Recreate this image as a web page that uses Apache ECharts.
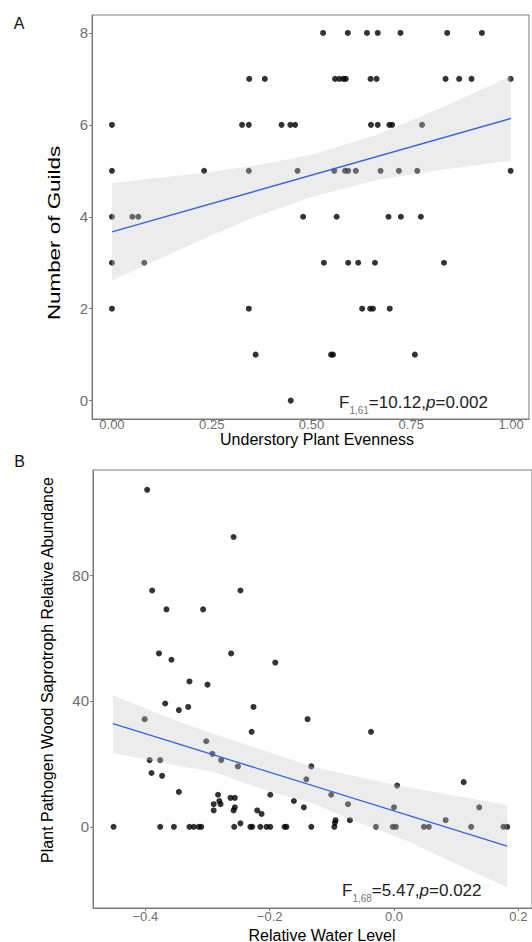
<!DOCTYPE html>
<html>
<head>
<meta charset="utf-8">
<script src="https://cdn.jsdelivr.net/npm/echarts@6/dist/echarts.min.js"></script>
<style>
  html, body { margin: 0; padding: 0; background: #fff; }
  #chart { width: 532px; height: 942px; }
</style>
</head>
<body>
<div id="chart"></div>
<script>
// --- panel A: understory evenness vs number of guilds ---
const evenX = [
  0.529, 0.591, 0.639, 0.666, 0.723, 0.840, 0.927,
  0.344, 0.383, 0.559, 0.570, 0.580, 0.586, 0.648, 0.663, 0.836, 0.870, 0.901, 0.999,
  0.000, 0.326, 0.343, 0.425, 0.447, 0.459, 0.649, 0.666, 0.695, 0.702, 0.777,
  0.000, 0.231, 0.343, 0.465, 0.557, 0.584, 0.592, 0.611, 0.673, 0.719, 0.765, 0.999,
  0.000, 0.051, 0.066, 0.479, 0.563, 0.693, 0.724, 0.774,
  0.000, 0.081, 0.531, 0.592, 0.617, 0.659, 0.832,
  0.000, 0.343, 0.627, 0.647, 0.654, 0.696,
  0.360, 0.549, 0.554, 0.759,
  0.448
];
const guildY = [
  8, 8, 8, 8, 8, 8, 8,
  7, 7, 7, 7, 7, 7, 7, 7, 7, 7, 7, 7,
  6, 6, 6, 6, 6, 6, 6, 6, 6, 6, 6,
  5, 5, 5, 5, 5, 5, 5, 5, 5, 5, 5, 5,
  4, 4, 4, 4, 4, 4, 4, 4,
  3, 3, 3, 3, 3, 3, 3,
  2, 2, 2, 2, 2, 2,
  1, 1, 1, 1,
  0
];
const evenTicks = [0, 0.25, 0.5, 0.75, 1];
const guildTicks = [0, 2, 4, 6, 8];
const fitAx = [0, 1];
const fitAy = [3.67, 6.14];
const bandAx = [0, 0.1, 0.233, 0.35, 0.5, 0.663, 0.83, 1.0];
const bandAlo = [2.61, 3.01, 3.53, 3.97, 4.43, 4.80, 5.03, 5.22];
const bandAhi = [4.73, 4.83, 4.96, 5.10, 5.35, 5.78, 6.39, 7.06];

// --- panel B: relative water level vs saprotroph abundance ---
const waterX = [
  -0.397, -0.258, -0.389, -0.247, -0.366, -0.307, -0.378, -0.358, -0.262, -0.191,
  -0.329, -0.300, -0.368, -0.346, -0.331, -0.226, -0.401, -0.139, -0.229, -0.037,
  -0.302, -0.292, -0.393, -0.376, -0.278, -0.251, -0.133, -0.390, -0.373, -0.141,
  0.112, 0.005, -0.346, -0.283, -0.199, -0.101, -0.263, -0.256, -0.290, -0.281,
  -0.279, -0.161, -0.074, -0.145, 0.137, 0.000, -0.256, -0.258, -0.290, -0.220,
  -0.213, -0.094, -0.095, -0.071, 0.083, -0.247,
  -0.451, -0.376, -0.354, -0.329, -0.322, -0.314, -0.310, -0.257, -0.231, -0.228,
  -0.215, -0.205, -0.199, -0.176, -0.173, -0.133, -0.096, -0.029, -0.002, 0.003,
  0.048, 0.056, 0.124, 0.176, 0.182
];
const abundY = [
  107.1, 92.1, 75.1, 75.1, 69.1, 69.1, 55.1, 53.1, 55.1, 52.2,
  46.2, 45.2, 39.2, 37.1, 38.1, 38.1, 34.2, 34.2, 30.2, 30.2,
  27.2, 23.2, 21.2, 21.2, 21.2, 19.2, 19.2, 17.1, 16.2, 15.1,
  14.2, 13.1, 11.1, 10.2, 10.2, 10.2, 9.2, 9.2, 7.2, 8.2,
  7.2, 8.2, 7.2, 6.2, 6.2, 6.2, 6.2, 5.2, 5.2, 5.2,
  4.1, 2.1, 1.3, 2.1, 2.1, 1.1,
  0, 0, 0, 0, 0, 0, 0, 0, 0, 0,
  0, 0, 0, 0, 0, 0, 0, 0, 0, 0,
  0, 0, 0, 0, 0
];
const waterTicks = [-0.4, -0.2, 0, 0.2];
const abundTicks = [0, 40, 80];
const fitBx = [-0.452, 0.182];
const fitBy = [32.8, -6.1];
const bandBx = [-0.452, -0.37, -0.291, -0.2, -0.132, -0.05, 0.018, 0.1, 0.182];
const bandBlo = [23.5, 20.2, 17.5, 11.2, 7.6, 0.8, -4.2, -11.8, -19.2];
const bandBhi = [41.8, 35.2, 29.6, 23.6, 19.2, 15.5, 12.7, 9.8, 6.9];

const FONT = '"Liberation Sans", Arial, sans-serif';
const AXIS_GREY = '#7a7a7a';
const LABEL_GREY = '#6e6e6e';
const FIT_BLUE = '#3263E0';

function zip(xs, ys) { return xs.map((x, i) => [x, ys[i]]); }

// confidence ribbon drawn as one polygon through the axis scales
function bandRenderer(xs, lo, hi) {
  return function (params, api) {
    const pts = [];
    xs.forEach((x, i) => pts.push(api.coord([x, hi[i]])));
    for (let i = xs.length - 1; i >= 0; i--) pts.push(api.coord([xs[i], lo[i]]));
    return { type: 'polygon', shape: { points: pts }, style: { fill: 'rgba(200,200,200,0.35)' } };
  };
}

function valueAxis(gridIndex, min, max, ticks, fmt, fontSize, margin) {
  return {
    type: 'value', gridIndex, min, max,
    axisLine: { show: true, onZero: false, lineStyle: { color: AXIS_GREY, width: 1 } },
    axisTick: { show: true, length: 3, customValues: ticks, lineStyle: { color: AXIS_GREY } },
    axisLabel: { customValues: ticks, formatter: fmt, color: LABEL_GREY, fontSize, fontFamily: FONT, margin },
    splitLine: { show: false }
  };
}

const minus = v => (v < 0 ? '\u2212' + Math.abs(v).toFixed(1) : v.toFixed(1));

const annotRich = {
  n: { fontSize: 17, fontFamily: FONT, fill: '#222', lineHeight: 26 },
  s: { fontSize: 10, fontFamily: FONT, fill: '#777', lineHeight: 10, verticalAlign: 'bottom' },
  i: { fontSize: 17, fontFamily: FONT, fontStyle: 'italic', fill: '#222', lineHeight: 26 }
};

const chart = echarts.init(document.getElementById('chart'), null, { renderer: 'svg' });
chart.setOption({
  animation: false,
  backgroundColor: '#fff',
  grid: [
    { left: 92, top: 15, width: 437, height: 404, show: true, borderColor: AXIS_GREY, borderWidth: 1 },
    { left: 93, top: 470, width: 445, height: 438, show: true, borderColor: AXIS_GREY, borderWidth: 1 }
  ],
  xAxis: [
    valueAxis(0, -0.05, 1.045, evenTicks, v => v.toFixed(2), 13, -1),
    valueAxis(1, -0.4841, 0.2219, waterTicks, minus, 13, 2)
  ],
  yAxis: [
    valueAxis(0, -0.4, 8.39, guildTicks, v => String(v), 15, 4),
    valueAxis(1, -25.8, 113.4, abundTicks, v => String(v), 15, 4)
  ],
  series: [
    { type: 'scatter', xAxisIndex: 0, yAxisIndex: 0, data: zip(evenX, guildY), symbolSize: 6, itemStyle: { color: '#000' }, z: 2 },
    { type: 'custom', xAxisIndex: 0, yAxisIndex: 0, data: [[bandAx[0], bandAlo[0]]], renderItem: bandRenderer(bandAx, bandAlo, bandAhi), silent: true, z: 3 },
    { type: 'line', xAxisIndex: 0, yAxisIndex: 0, data: zip(fitAx, fitAy), showSymbol: false, lineStyle: { color: FIT_BLUE, width: 1.3 }, z: 4 },

    { type: 'scatter', xAxisIndex: 1, yAxisIndex: 1, data: zip(waterX, abundY), symbolSize: 6, itemStyle: { color: '#000' }, z: 2 },
    { type: 'custom', xAxisIndex: 1, yAxisIndex: 1, data: [[bandBx[0], bandBlo[0]]], renderItem: bandRenderer(bandBx, bandBlo, bandBhi), silent: true, z: 3 },
    { type: 'line', xAxisIndex: 1, yAxisIndex: 1, data: zip(fitBx, fitBy), showSymbol: false, lineStyle: { color: FIT_BLUE, width: 1.3 }, z: 4 }
  ],
  graphic: [
    { type: 'text', x: 19, y: 23, style: { text: 'A', font: '16px ' + FONT, fill: '#111', align: 'center', verticalAlign: 'middle' } },
    { type: 'text', x: 19.5, y: 461, style: { text: 'B', font: '16px ' + FONT, fill: '#111', align: 'center', verticalAlign: 'middle' } },
    // the reference stretches this title along its length
    { type: 'text', x: 54, y: 233, rotation: Math.PI / 2, scaleX: 1.4,
      style: { text: 'Number of Guilds', font: '16px ' + FONT, fill: '#000', align: 'center', verticalAlign: 'middle' } },
    { type: 'text', x: 317, y: 439,
      style: { text: 'Understory Plant Evenness', font: '16px ' + FONT, fill: '#000', align: 'center', verticalAlign: 'middle' } },
    { type: 'text', x: 47.5, y: 670, rotation: Math.PI / 2,
      style: { text: 'Plant Pathogen Wood Saprotroph Relative Abundance', font: '16px ' + FONT, fill: '#000', align: 'center', verticalAlign: 'middle' } },
    { type: 'text', x: 322, y: 935,
      style: { text: 'Relative Water Level', font: '16px ' + FONT, fill: '#000', align: 'center', verticalAlign: 'middle' } },
    { type: 'text', x: 339, y: 402,
      style: { text: '{n|F}{s|1,61}{n|=10.12,}{i|p}{n|=0.002}', align: 'left', verticalAlign: 'middle', rich: annotRich } },
    { type: 'text', x: 342, y: 890,
      style: { text: '{n|F}{s|1,68}{n|=5.47,}{i|p}{n|=0.022}', align: 'left', verticalAlign: 'middle', rich: annotRich } }
  ]
});
</script>
</body>
</html>
